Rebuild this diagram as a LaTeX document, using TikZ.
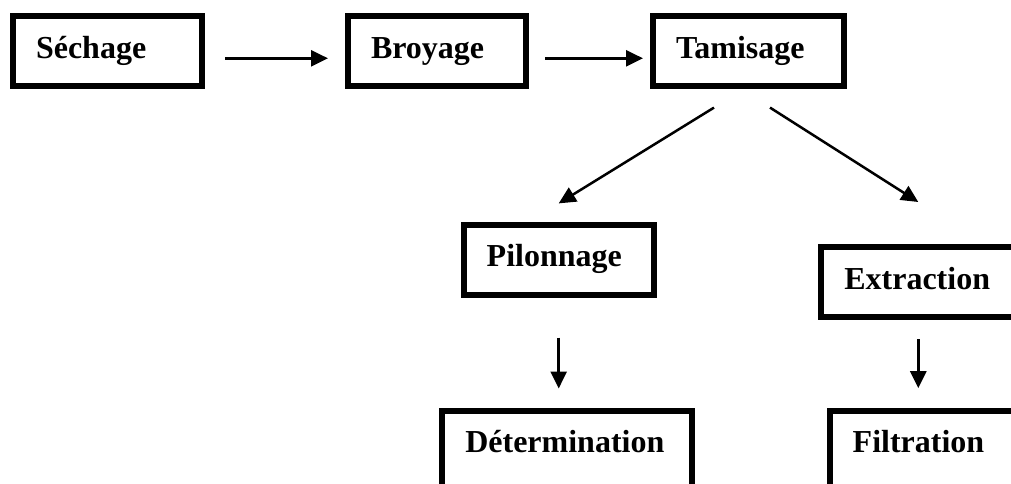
\documentclass[tikz,border=0pt]{standalone}
\usepackage{fontspec}
\setmainfont{Liberation Serif}
\usetikzlibrary{arrows.meta}

\begin{document}
\begin{tikzpicture}[x=1pt, y=-1pt,
        stage/.style={draw, line width=6pt, outer sep=0pt, inner xsep=23pt,
                      inner ysep=0pt, text height=42pt, text depth=28pt,
                      align=left, anchor=base west,
                      font=\fontsize{32}{38}\selectfont\bfseries},
        arr/.style={-{Triangle[length=17pt, width=16pt]}, line width=2.5pt}
    ]
        \useasboundingbox (0,0) rectangle (1011,484);
        \clip (0,0) rectangle (1011,484);

        \node[stage, text width=143pt] (sech) at (13, 58.3) {Séchage};
        \node[stage, text width=132pt] (broy) at (348, 58.3) {Broyage};
        \node[stage, text width=145pt] (tami) at (653, 58.3) {Tamisage};
        \node[stage, text width=144pt] (pilo) at (463.7, 266.7) {Pilonnage};
        \node[stage, text width=148pt] (extr) at (821.3, 289.3) {Extraction};
        \node[stage, text width=203.7pt, text depth=45pt] (dete) at (442.3, 452.5) {Détermination};
        \node[stage, text width=194pt, text depth=45pt] (filt) at (829.7, 452.5) {Filtration};

        \foreach \a/\b/\s/\e in {sech/broy/23/20, broy/tami/19/10}
            \draw[arr, shorten <=\s pt, shorten >=\e pt] (\a.base east) -- (\b.base west);

        \draw[arr] ([xshift=-34.5pt, yshift=-21.3pt]tami.south) -- ([yshift=21.3pt]pilo.north);
        \draw[arr] ([xshift=21.5pt, yshift=-21.3pt]tami.south) -- ([yshift=45.3pt]extr.north);

        \draw[arr, shorten <=43pt, shorten >=22pt] (pilo.south) -- (pilo.south |- dete.north);
        \draw[arr, shorten <=22pt, shorten >=22.3pt] (extr.south) -- (extr.south |- filt.north);
    \end{tikzpicture}
\end{document}
